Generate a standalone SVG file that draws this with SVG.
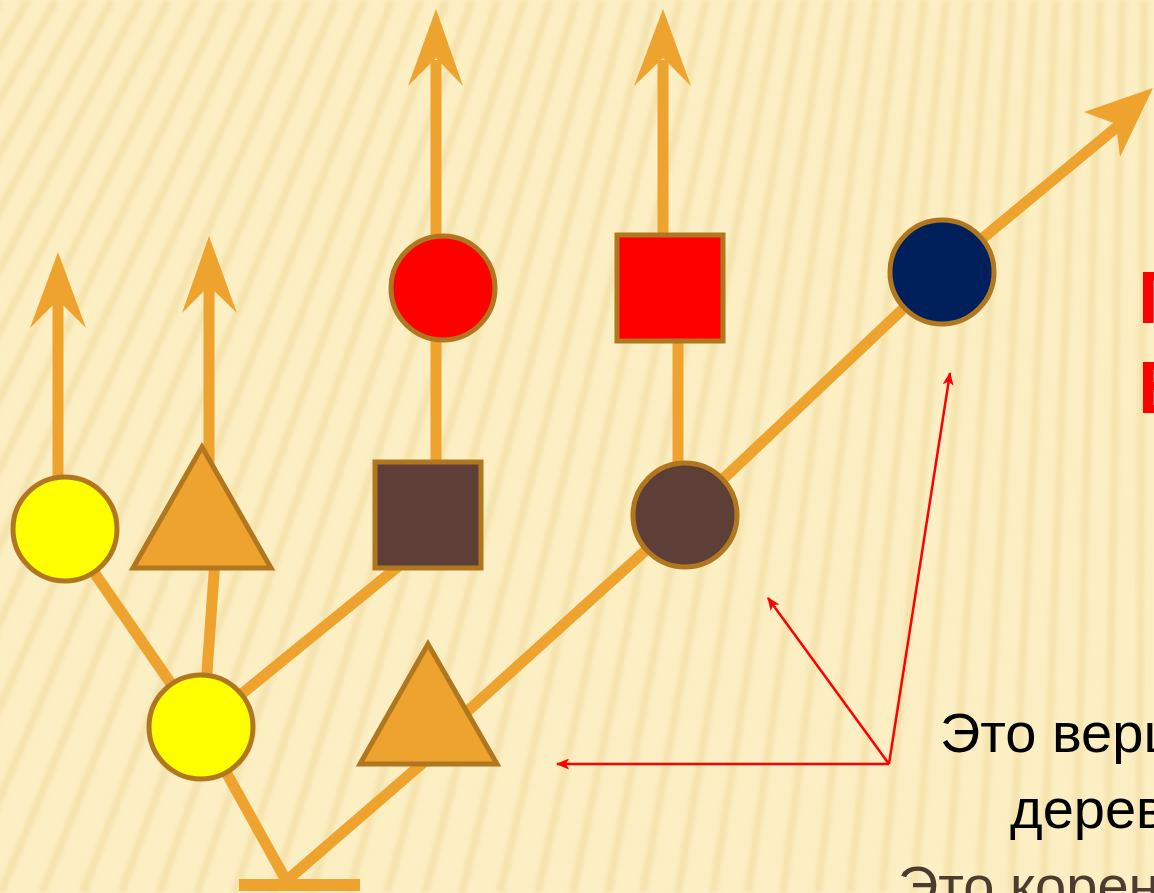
<svg xmlns="http://www.w3.org/2000/svg" width="1154" height="893" viewBox="0 0 1154 893">
<defs>
<style>
.conn line{stroke:#EFA32F;stroke-width:11;fill:none}
.head{fill:#EFA32F}
.node{stroke:#B0771F;stroke-width:5}
.red{stroke:#FF0000;stroke-width:2.5;fill:none}
.stripes line{stroke:#E9D08A;stroke-width:7;opacity:0.45}
.lbl{font-family:"Liberation Sans",Arial,sans-serif;font-size:56px}
.big{font-family:"Liberation Sans",Arial,sans-serif;font-size:74px;font-weight:bold;fill:#FF0000}
</style>
<filter id="blur" x="-10%" y="-10%" width="120%" height="120%"><feGaussianBlur stdDeviation="2.6"/></filter>
<marker id="rh" viewBox="0 0 12 10" refX="11" refY="5" markerWidth="14" markerHeight="11" markerUnits="userSpaceOnUse" orient="auto">
<path d="M0,0 L12,5 L0,10 L3,5 z" fill="#FF0000"/>
</marker>
</defs>
<rect width="1154" height="893" fill="#FCEFC4"/>
<g class="stripes" filter="url(#blur)">
<line x1="-300" y1="0" x2="-967" y2="893"/>
<line x1="-270" y1="0" x2="-923" y2="893"/>
<line x1="-240" y1="0" x2="-879" y2="893"/>
<line x1="-210" y1="0" x2="-835" y2="893"/>
<line x1="-180" y1="0" x2="-791" y2="893"/>
<line x1="-150" y1="0" x2="-747" y2="893"/>
<line x1="-120" y1="0" x2="-703" y2="893"/>
<line x1="-90" y1="0" x2="-659" y2="893"/>
<line x1="-60" y1="0" x2="-615" y2="893"/>
<line x1="-30" y1="0" x2="-571" y2="893"/>
<line x1="0" y1="0" x2="-530" y2="893"/>
<line x1="28" y1="0" x2="-489" y2="893"/>
<line x1="56" y1="0" x2="-448" y2="893"/>
<line x1="84" y1="0" x2="-407" y2="893"/>
<line x1="112" y1="0" x2="-366" y2="893"/>
<line x1="140" y1="0" x2="-326" y2="893"/>
<line x1="168" y1="0" x2="-285" y2="893"/>
<line x1="196" y1="0" x2="-244" y2="893"/>
<line x1="224" y1="0" x2="-203" y2="893"/>
<line x1="252" y1="0" x2="-162" y2="893"/>
<line x1="280" y1="0" x2="-122" y2="893"/>
<line x1="308" y1="0" x2="-81" y2="893"/>
<line x1="336" y1="0" x2="-40" y2="893"/>
<line x1="364" y1="0" x2="1" y2="893"/>
<line x1="392" y1="0" x2="42" y2="893"/>
<line x1="420" y1="0" x2="83" y2="893"/>
<line x1="446" y1="0" x2="121" y2="893"/>
<line x1="472" y1="0" x2="159" y2="893"/>
<line x1="498" y1="0" x2="197" y2="893"/>
<line x1="524" y1="0" x2="235" y2="893"/>
<line x1="550" y1="0" x2="273" y2="893"/>
<line x1="576" y1="0" x2="311" y2="893"/>
<line x1="602" y1="0" x2="349" y2="893"/>
<line x1="628" y1="0" x2="387" y2="893"/>
<line x1="654" y1="0" x2="425" y2="893"/>
<line x1="680" y1="0" x2="462" y2="893"/>
<line x1="706" y1="0" x2="500" y2="893"/>
<line x1="732" y1="0" x2="538" y2="893"/>
<line x1="756" y1="0" x2="573" y2="893"/>
<line x1="780" y1="0" x2="608" y2="893"/>
<line x1="804" y1="0" x2="643" y2="893"/>
<line x1="828" y1="0" x2="678" y2="893"/>
<line x1="852" y1="0" x2="713" y2="893"/>
<line x1="876" y1="0" x2="748" y2="893"/>
<line x1="900" y1="0" x2="783" y2="893"/>
<line x1="924" y1="0" x2="818" y2="893"/>
<line x1="946" y1="0" x2="850" y2="893"/>
<line x1="968" y1="0" x2="882" y2="893"/>
<line x1="990" y1="0" x2="914" y2="893"/>
<line x1="1012" y1="0" x2="947" y2="893"/>
<line x1="1034" y1="0" x2="979" y2="893"/>
<line x1="1056" y1="0" x2="1011" y2="893"/>
<line x1="1078" y1="0" x2="1043" y2="893"/>
<line x1="1100" y1="0" x2="1075" y2="893"/>
<line x1="1122" y1="0" x2="1107" y2="893"/>
<line x1="1144" y1="0" x2="1139" y2="893"/>
</g>
<g id="connectors" class="conn">
<line x1="201" y1="727" x2="64" y2="529"/>
<line x1="58" y1="529" x2="58" y2="300"/>
<line x1="205" y1="700" x2="215" y2="560"/>
<line x1="209" y1="470" x2="209" y2="285"/>
<line x1="201" y1="727" x2="400" y2="565"/>
<line x1="201" y1="727" x2="287" y2="882"/>
<line x1="239" y1="885" x2="360" y2="885" style="stroke-width:12"/>
<line x1="285" y1="882" x2="432" y2="755"/>
<line x1="430" y1="745" x2="685" y2="515"/>
<line x1="685" y1="515" x2="942" y2="272"/>
<line x1="942" y1="272" x2="1118" y2="126"/>
<line x1="436" y1="515" x2="436" y2="60"/>
<line x1="678" y1="515" x2="678" y2="288"/>
<line x1="663" y1="288" x2="663" y2="60"/>
<polygon class="head" points="58,252 86,328 58,300 30,328"/>
<polygon class="head" points="209,236 237,313 209,286 182,313"/>
<polygon class="head" points="436,9 463,86 436,58 408,86"/>
<polygon class="head" points="663,9 691,86 663,58 634,86"/>
<polygon class="head" points="1153,88 1120,157 1116,124 1084,112"/>
</g>
<g id="root">
<rect x="239" y="879" width="121" height="12" fill="#EFA32F"/>
</g>
<g id="node-yellow-left"><circle class="node" cx="65" cy="529" r="52" fill="#FFFF00"/></g>
<g id="node-triangle-left"><polygon class="node" points="202,447 133,568 271,568" fill="#EFA32F"/></g>
<g id="node-yellow-bottom"><circle class="node" cx="201" cy="727" r="52" fill="#FFFF00"/></g>
<g id="node-square-brown"><rect class="node" x="375" y="462" width="106" height="106" fill="#5E3F38"/></g>
<g id="node-triangle-mid"><polygon class="node" points="428,644 360,764 497,764" fill="#EFA32F"/></g>
<g id="node-circle-red"><circle class="node" cx="443" cy="288" r="52" fill="#FF0000"/></g>
<g id="node-square-red"><rect class="node" x="617" y="235" width="106" height="106" fill="#FF0000"/></g>
<g id="node-circle-brown"><circle class="node" cx="685" cy="515" r="52" fill="#5E3F38"/></g>
<g id="node-circle-navy"><circle class="node" cx="942" cy="272" r="52" fill="#00205B"/></g>
<g id="pointers">
<line class="red" x1="889" y1="764" x2="557" y2="764" marker-end="url(#rh)"/>
<line class="red" x1="889" y1="764" x2="768" y2="598" marker-end="url(#rh)"/>
<line class="red" x1="889" y1="764" x2="950" y2="373" marker-end="url(#rh)"/>
</g>
<g id="labels">
<text class="big" x="1138" y="323">П</text>
<text class="big" x="1138" y="413">В</text>
<text class="lbl" x="940" y="752" fill="#000000">Это вершины</text>
<text class="lbl" x="1010" y="828" fill="#000000">дерева</text>
<text class="lbl" x="898" y="905" fill="#4B3C2F">Это корень</text>
</g>
</svg>
